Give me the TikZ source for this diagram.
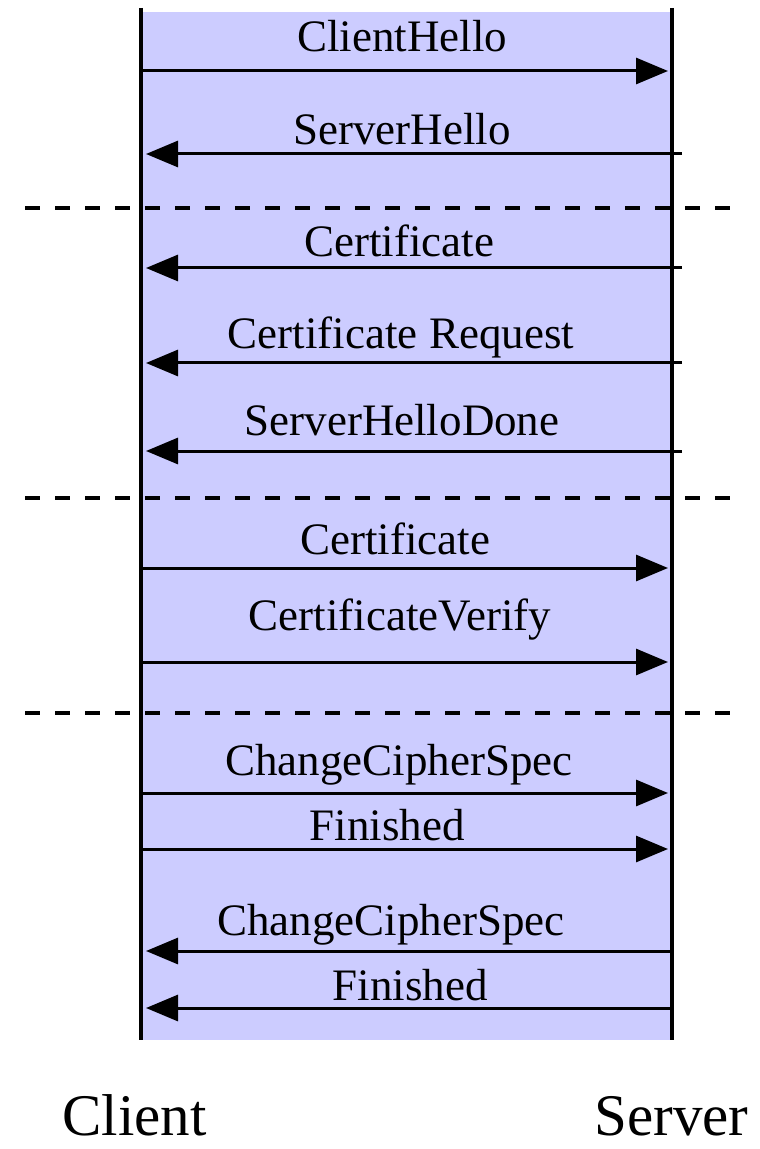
\documentclass[tikz,border=0pt]{standalone}
\usepackage{fontspec}
\setmainfont{Liberation Serif}
\usepackage{tikz}
\usetikzlibrary{arrows.meta}
\definecolor{tlslav}{RGB}{204, 204, 255}

\begin{document}
\begin{tikzpicture}[x=0.5pt, y=-0.5pt,
        lifeline/.style={line width=2pt},
        msg/.style={line width=1.5pt, -{Triangle[length=16pt, width=13pt]},
                    shorten >=2pt},
        reply/.style={msg, shorten <=-5pt, shorten >=2.5pt},
        phase/.style={line width=2pt, dash pattern=on 7.5pt off 7.5pt},
        lbl/.style={font=\fontsize{22.5}{27}\selectfont, anchor=base, inner sep=0pt},
        party/.style={font=\fontsize{29.5}{34}\selectfont, anchor=base, inner sep=0pt},
      ]
        \useasboundingbox (0,0) rectangle (759,1149);

        \coordinate (ctop) at (141,8);
        \coordinate (cbot) at (141,1040);
        \coordinate (stop) at (672,8);
        \coordinate (sbot) at (672,1040);

        \fill[tlslav] (141,12) rectangle (sbot);
        \draw[lifeline] (ctop) -- (cbot);
        \draw[lifeline] (stop) -- (sbot);

        % handshake phases
        \draw[phase] (25,208) -- (742,208);
        \draw[phase] (25,498) -- (742,498);
        \draw[phase] (25,713) -- (742,713);

        % message ends on both lifelines
        \coordinate (c1) at (141,71);    \coordinate (s1) at (672,71);
        \coordinate (c2) at (141,154);   \coordinate (s2) at (672,154);
        \coordinate (c3) at (141,268);   \coordinate (s3) at (672,268);
        \coordinate (c4) at (141,363);   \coordinate (s4) at (672,363);
        \coordinate (c5) at (141,451);   \coordinate (s5) at (672,451);
        \coordinate (c6) at (141,568);   \coordinate (s6) at (672,568);
        \coordinate (c7) at (141,662);   \coordinate (s7) at (672,662);
        \coordinate (c8) at (141,793);   \coordinate (s8) at (672,793);
        \coordinate (c9) at (141,849);   \coordinate (s9) at (672,849);
        \coordinate (c10) at (141,951);  \coordinate (s10) at (672,951);
        \coordinate (c11) at (141,1008); \coordinate (s11) at (672,1008);

        \node[lbl] (hello) at (402,52) {ClientHello};
        \node[lbl] (shello) at (402,145) {ServerHello};
        \node[lbl] (scert) at (399,257) {Certificate};
        \node[lbl] (creq) at (401,349) {Certificate Request};
        \node[lbl] (sdone) at (402,436) {ServerHelloDone};
        \node[lbl] (ccert) at (395,554) {Certificate};
        \node[lbl] (cverify) at (400,630) {CertificateVerify};
        \node[lbl] (cccs) at (399,775) {ChangeCipherSpec};
        \node[lbl] (cfin) at (387,840) {Finished};
        \node[lbl] (sccs) at (391,935) {ChangeCipherSpec};
        \node[lbl] (sfin) at (410,1000) {Finished};

        \draw[msg] (c1) -- (s1);
        \draw[reply] (s2) -- (c2);
        \draw[reply] (s3) -- (c3);
        \draw[reply] (s4) -- (c4);
        \draw[reply] (s5) -- (c5);
        \draw[msg] (c6) -- (s6);
        \draw[msg] (c7) -- (s7);
        \draw[msg] (c8) -- (s8);
        \draw[msg] (c9) -- (s9);
        \draw[reply, shorten <=0pt] (s10) -- (c10);
        \draw[reply, shorten <=0pt] (s11) -- (c11);

        \node[party] (client) at (134.5,1135) {Client};
        \node[party] (server) at (671.5,1135) {Server};
      \end{tikzpicture}
\end{document}
